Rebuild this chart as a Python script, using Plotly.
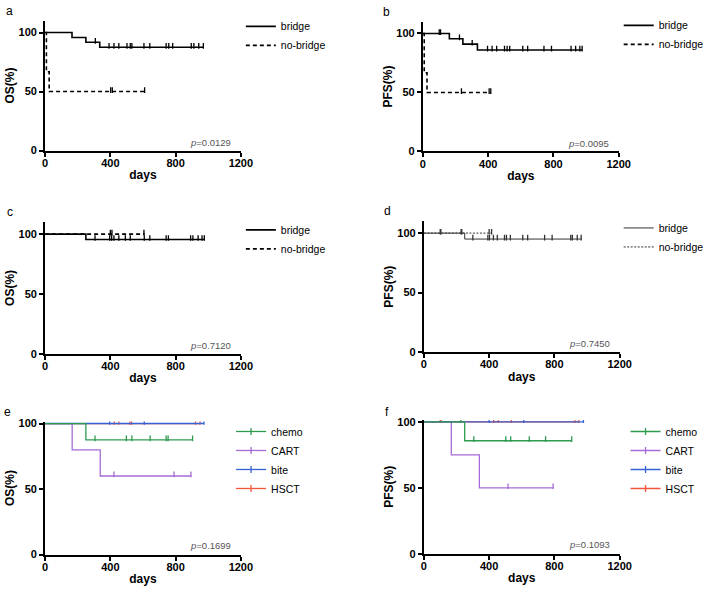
"""Curvas de Kaplan-Meier (OS / PFS) en 6 paneles con Plotly."""
import plotly.graph_objects as go

W, H = 709, 598

# ---- datos (dias, supervivencia %) ----
# panel a: OS
a_bridge_t = [0, 165, 250, 335, 970]
a_bridge_s = [100, 95.8, 91.7, 87.5, 87.5]
a_bridge_cens = [308, 392, 422, 452, 502, 522, 532, 606, 642, 742, 758, 782, 896, 912, 942, 970]
a_nobridge_t = [0, 8, 25, 610]
a_nobridge_s = [100, 66.7, 50, 50]
a_nobridge_cens = [402, 412, 610]

# panel b: PFS
b_bridge_t = [0, 162, 245, 334, 976]
b_bridge_s = [100, 95.5, 91, 86, 86]
b_bridge_cens = [100, 108, 224, 302, 396, 424, 452, 500, 516, 532, 612, 642, 742, 788, 908, 936, 962, 976]
b_nobridge_t = [0, 8, 25, 415]
b_nobridge_s = [100, 66.7, 50, 50]
b_nobridge_cens = [236, 406, 416]

# panel c: OS
c_bridge_t = [0, 250, 976]
c_bridge_s = [100, 95.5, 95.5]
c_bridge_cens = [306, 396, 408, 422, 452, 492, 522, 608, 642, 742, 756, 892, 906, 938, 962, 976]
c_nobridge_t = [0, 610]
c_nobridge_s = [100, 100]
c_nobridge_cens = [400, 410, 606]

# panel d: PFS
d_bridge_t = [0, 250, 968]
d_bridge_s = [100, 95, 95]
d_bridge_cens = [100, 228, 300, 392, 402, 426, 450, 494, 506, 530, 606, 636, 740, 786, 900, 910, 940, 964]
d_nobridge_t = [0, 415]
d_nobridge_s = [100, 100]
d_nobridge_cens = [104, 232, 400, 415]

# panel e: OS por tratamiento
e_chemo_t = [0, 250, 904]
e_chemo_s = [100, 87.5, 87.5]
e_chemo_cens = [306, 498, 532, 644, 742, 754, 904]
e_cart_t = [0, 166, 338, 896]
e_cart_s = [100, 80, 60, 60]
e_cart_cens = [422, 790, 894]
e_bite_t = [0, 974]
e_bite_s = [100, 100]
e_bite_cens = [396, 608, 974]
e_hsct_t = [0, 950]
e_hsct_s = [100, 100]
e_hsct_cens = [424, 452, 520, 530, 922, 950]

# panel f: PFS por tratamiento
f_chemo_t = [0, 250, 906]
f_chemo_s = [100, 85.7, 85.7]
f_chemo_cens = [226, 306, 502, 532, 646, 746, 906]
f_cart_t = [0, 168, 340, 792]
f_cart_s = [100, 75, 50, 50]
f_cart_cens = [516, 792]
f_bite_t = [0, 978]
f_bite_s = [100, 100]
f_bite_cens = [400, 612, 978]
f_hsct_t = [0, 950]
f_hsct_s = [100, 100]
f_hsct_cens = [100, 106, 428, 456, 536, 926, 950]

p_values = ['0.0129', '0.0095', '0.7120', '0.7450', '0.1699', '0.1093']
y_titles = ['OS(%)', 'PFS(%)', 'OS(%)', 'PFS(%)', 'OS(%)', 'PFS(%)']
letters = ['a', 'b', 'c', 'd', 'e', 'f']

C_CHEMO, C_CART, C_BITE, C_HSCT = '#2E9A4E', '#A66BD6', '#3762D6', '#F2553A'
FONT = 'Liberation Sans, Arial'


def surv_at(ts, ss, t):
    """valor de la curva escalonada en el tiempo t"""
    val = ss[0]
    for ti, si in zip(ts, ss):
        if ti <= t:
            val = si
    return val


fig = go.Figure()


def add_curve(n, ts, ss, cens, color, width, dash):
    ax = '' if n == 1 else str(n)
    fig.add_trace(go.Scatter(
        x=ts, y=ss, mode='lines', line=dict(color=color, width=width, dash=dash, shape='hv'),
        xaxis='x' + ax, yaxis='y' + ax, showlegend=False, hoverinfo='skip'))
    fig.add_trace(go.Scatter(
        x=cens, y=[surv_at(ts, ss, c) + 1.2 for c in cens], mode='markers',
        marker=dict(symbol='line-ns', size=4, line=dict(color=color, width=1.3)),
        xaxis='x' + ax, yaxis='y' + ax, showlegend=False, hoverinfo='skip'))


def add_legend_entry(n, name, color, width, dash, with_tick):
    ax = '' if n == 1 else str(n)
    fig.add_trace(go.Scatter(
        x=[None], y=[None], name=name,
        mode='lines+markers' if with_tick else 'lines',
        line=dict(color=color, width=width, dash=dash),
        marker=dict(symbol='line-ns', size=5, line=dict(color=color, width=1.3)),
        xaxis='x' + ax, yaxis='y' + ax, legend='legend' + ax))


# a
add_curve(1, a_nobridge_t, a_nobridge_s, a_nobridge_cens, 'black', 1.6, '4px,3px')
add_curve(1, a_bridge_t, a_bridge_s, a_bridge_cens, 'black', 1.6, 'solid')
add_legend_entry(1, 'bridge', 'black', 1.6, 'solid', False)
add_legend_entry(1, 'no-bridge', 'black', 1.6, '4px,3px', False)
# b
add_curve(2, b_nobridge_t, b_nobridge_s, b_nobridge_cens, 'black', 1.6, '4px,3px')
add_curve(2, b_bridge_t, b_bridge_s, b_bridge_cens, 'black', 1.6, 'solid')
add_legend_entry(2, 'bridge', 'black', 1.6, 'solid', False)
add_legend_entry(2, 'no-bridge', 'black', 1.6, '4px,3px', False)
# c
add_curve(3, c_bridge_t, c_bridge_s, c_bridge_cens, 'black', 1.6, 'solid')
add_curve(3, c_nobridge_t, c_nobridge_s, c_nobridge_cens, 'black', 1.6, '4px,3px')
add_legend_entry(3, 'bridge', 'black', 1.6, 'solid', False)
add_legend_entry(3, 'no-bridge', 'black', 1.6, '4px,3px', False)
# d
add_curve(4, d_bridge_t, d_bridge_s, d_bridge_cens, '#333333', 1, 'solid')
add_curve(4, d_nobridge_t, d_nobridge_s, d_nobridge_cens, '#333333', 1, '2px,1.5px')
add_legend_entry(4, 'bridge', '#333333', 1, 'solid', False)
add_legend_entry(4, 'no-bridge', '#333333', 1, '2px,1.5px', False)
# e
add_curve(5, e_hsct_t, e_hsct_s, e_hsct_cens, C_HSCT, 1.3, 'solid')
add_curve(5, e_cart_t, e_cart_s, e_cart_cens, C_CART, 1.3, 'solid')
add_curve(5, e_bite_t, e_bite_s, e_bite_cens, C_BITE, 1.4, 'solid')
add_curve(5, e_chemo_t, e_chemo_s, e_chemo_cens, C_CHEMO, 1.3, 'solid')
for nm, col in [('chemo', C_CHEMO), ('CART', C_CART), ('bite', C_BITE), ('HSCT', C_HSCT)]:
    add_legend_entry(5, nm, col, 1.3, 'solid', True)
# f
add_curve(6, f_hsct_t, f_hsct_s, f_hsct_cens, C_HSCT, 1.3, 'solid')
add_curve(6, f_cart_t, f_cart_s, f_cart_cens, C_CART, 1.3, 'solid')
add_curve(6, f_bite_t, f_bite_s, f_bite_cens, C_BITE, 1.4, 'solid')
add_curve(6, f_chemo_t, f_chemo_s, f_chemo_cens, C_CHEMO, 1.3, 'solid')
for nm, col in [('chemo', C_CHEMO), ('CART', C_CART), ('bite', C_BITE), ('HSCT', C_HSCT)]:
    add_legend_entry(6, nm, col, 1.3, 'solid', True)

# geometria de paneles en pixeles: (x0, y del 0, y del 100, ymax)
panels = [
    (43, 149, 29, 110),
    (429, 150, 30, 110),
    (43, 355.7, 234, 110),
    (430, 354, 233, 110),
    (43, 560, 426.7, 101.5),
    (430, 559, 425, 101.5),
]
legend_pos = [(243, 8), (629, 7), (243, 215), (629, 213), (233, 420), (636, 420)]
letter_pos = [(7, 7), (392, 8), (7, 212), (393, 211), (5, 415), (392, 415)]

layout = dict(width=W, height=H, margin=dict(l=0, r=0, t=0, b=0),
              plot_bgcolor='white', paper_bgcolor='white',
              font=dict(family=FONT, color='black'), annotations=[])

for i, (x0, y0, y100, ymax) in enumerate(panels):
    n = i + 1
    ax = '' if n == 1 else str(n)
    ppu = (y0 - y100) / 100.0
    ytop = y0 - ymax * ppu
    layout['xaxis' + ax] = dict(
        domain=[x0 / W, (x0 + 200) / W], anchor='y' + ax, range=[0, 1200],
        tickvals=[0, 400, 800, 1200], showline=True, linecolor='black', linewidth=2,
        ticks='outside', ticklen=4, tickwidth=2, tickcolor='black',
        showgrid=False, zeroline=False, ticklabelstandoff=-3,
        tickfont=dict(family=FONT, size=11, color='black', weight='bold'),
        title=dict(text='<b>days</b>', font=dict(family=FONT, size=12), standoff=3))
    layout['yaxis' + ax] = dict(
        domain=[1 - y0 / H, 1 - ytop / H], anchor='x' + ax, range=[0, ymax],
        tickvals=[0, 50, 100], showline=True, linecolor='black', linewidth=2,
        ticks='outside', ticklen=4, tickwidth=2, tickcolor='black',
        showgrid=False, zeroline=False,
        tickfont=dict(family=FONT, size=11, color='black', weight='bold'),
        title=dict(text='<b>' + y_titles[i] + '</b>', font=dict(family=FONT, size=12), standoff=1))
    lx, ly = legend_pos[i]
    layout['legend' + ax] = dict(
        x=lx / W, y=1 - ly / H, xanchor='left', yanchor='top', bgcolor='rgba(0,0,0,0)',
        font=dict(family=FONT, size=10.5, color='black'), itemwidth=30, tracegroupgap=0)
    layout['annotations'].append(dict(
        xref='x' + ax, yref='y' + ax, x=1150, y=7, xanchor='right', yanchor='middle',
        text='<i>p</i>=' + p_values[i], showarrow=False,
        font=dict(family=FONT, size=9.5, color='#555555')))
    tx, ty = letter_pos[i]
    layout['annotations'].append(dict(
        xref='paper', yref='paper', x=tx / W, y=1 - ty / H, xanchor='center', yanchor='middle',
        text=letters[i], showarrow=False, font=dict(family=FONT, size=12, color='black')))

fig.update_layout(**layout)
# quitar el margen por defecto del body para que la figura ocupe la ventana
fig.write_html("out.html", config={'displayModeBar': False},
               post_script="document.body.style.margin='0';")
